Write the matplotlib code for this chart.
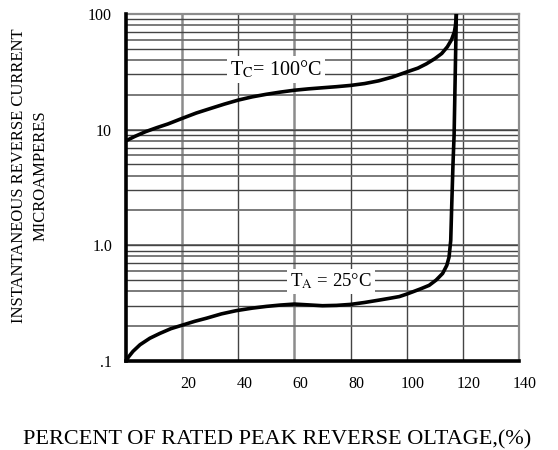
import matplotlib
matplotlib.use('Agg')
import matplotlib.pyplot as plt
import matplotlib.transforms as mtransforms

plt.rcParams['font.family'] = ['Liberation Serif', 'DejaVu Serif']
plt.rcParams['mathtext.fontset'] = 'stix'

# T_C = 100 C curve
x_100 = [0, 3, 7, 11, 15, 20, 25, 30, 35, 40, 45, 50, 55, 60, 65, 70, 75, 80, 85, 90,
         95, 100, 104, 107, 110, 112.5, 114.5, 116, 117, 117.4, 117.7]
i_100 = [8.0, 8.7, 9.6, 10.4, 11.2, 12.5, 13.9, 15.2, 16.6, 18.0, 19.2, 20.2, 21.1, 21.9,
         22.5, 23.0, 23.5, 24.1, 25.0, 26.4, 28.5, 31.5, 34.0, 37.0, 41.0, 45.5, 52.0, 60.0,
         70.0, 80.0, 100.0]

# T_A = 25 C curve
x_25 = [0, 1, 2.5, 5, 8.5, 12.1, 16, 20.4, 24.5, 28.7, 34, 39.3, 45, 50, 55, 60, 65, 70,
        75, 80, 85, 90, 94, 97.4, 100, 102.1, 105, 108, 110.5, 112.8, 114.3, 115.1, 115.7,
        116.0, 116.5, 116.9, 117.3, 117.7]
i_25 = [0.1, 0.109, 0.121, 0.138, 0.157, 0.173, 0.19, 0.205, 0.22, 0.234, 0.255, 0.272, 0.286,
        0.296, 0.304, 0.31, 0.305, 0.3, 0.302, 0.308, 0.32, 0.335, 0.348, 0.36, 0.378, 0.395,
        0.42, 0.45, 0.5, 0.57, 0.67, 0.79, 1.1, 2.0, 5.0, 9.0, 30.0, 100.0]

x_ticks = [20, 40, 60, 80, 100, 120, 140]
y_ticks = [0.1, 1.0, 10, 100]
y_labels = ['.1', '1.0', '10', '100']

fig = plt.figure(figsize=(5.58, 4.5), dpi=100)
ax = fig.add_axes([0.2258, 0.198, 0.7042, 0.771])
ax.set_yscale('log')
ax.set_xlim(0, 140)
ax.set_ylim(0.1, 100)

# grid
grey_x = [20, 60, 140]
for xv in range(20, 141, 20):
    if xv in grey_x:
        ax.axvline(xv, color='#8c8c8c', lw=1.8, zorder=1)
    else:
        ax.axvline(xv, color='#444444', lw=1.0, zorder=1)
for dec in [0.1, 1, 10]:
    for k in range(1, 11):
        yv = dec * k
        c, w = ('#444444', 1.0) if k % 2 else ('#6f6f6f', 1.3)
        ax.axhline(yv, color=c, lw=w, zorder=1)

ax.plot(x_100, i_100, color='black', lw=2.6, solid_capstyle='round',
        solid_joinstyle='round', zorder=3)
ax.plot(x_25, i_25, color='black', lw=2.6, solid_capstyle='round',
        solid_joinstyle='round', zorder=3)

ax.text(53.5, 33, 'T$_{\\mathrm{C}}$= 100°C', fontsize=14.5, ha='center', va='center',
        bbox=dict(facecolor='white', edgecolor='none', pad=2), zorder=4)
ax.text(73, 0.485, 'T$_{\\mathrm{A}}$ = 25°C', fontsize=13.5, ha='center', va='center',
        bbox=dict(facecolor='white', edgecolor='none', pad=2), zorder=4)

ax.set_xticks(x_ticks)
ax.set_yticks(y_ticks)
ax.set_yticklabels(y_labels)
ax.yaxis.set_minor_locator(matplotlib.ticker.NullLocator())
ax.tick_params(axis='both', length=0, labelsize=11.5)
ax.tick_params(axis='x', pad=11)
ax.tick_params(axis='y', pad=10)
offset = mtransforms.ScaledTranslation(6 / 100, 0, fig.dpi_scale_trans)
for lab in ax.get_xticklabels():
    lab.set_transform(lab.get_transform() + offset)

for s in ['left', 'bottom']:
    ax.spines[s].set_linewidth(2.6)
    ax.spines[s].set_color('black')
    ax.spines[s].set_zorder(5)
for s in ['top', 'right']:
    ax.spines[s].set_linewidth(1.6)
    ax.spines[s].set_color('#8c8c8c')

fig.text(0.054, 0.609, 'INSTANTANEOUS REVERSE CURRENT\nMICROAMPERES', rotation=90,
         ha='center', va='center', fontsize=12, linespacing=1.45, multialignment='center')
fig.text(0.497, 0.022, 'PERCENT OF RATED PEAK REVERSE OLTAGE,(%)', ha='center',
         va='center', fontsize=16)

fig.savefig('out.png', dpi=100)
